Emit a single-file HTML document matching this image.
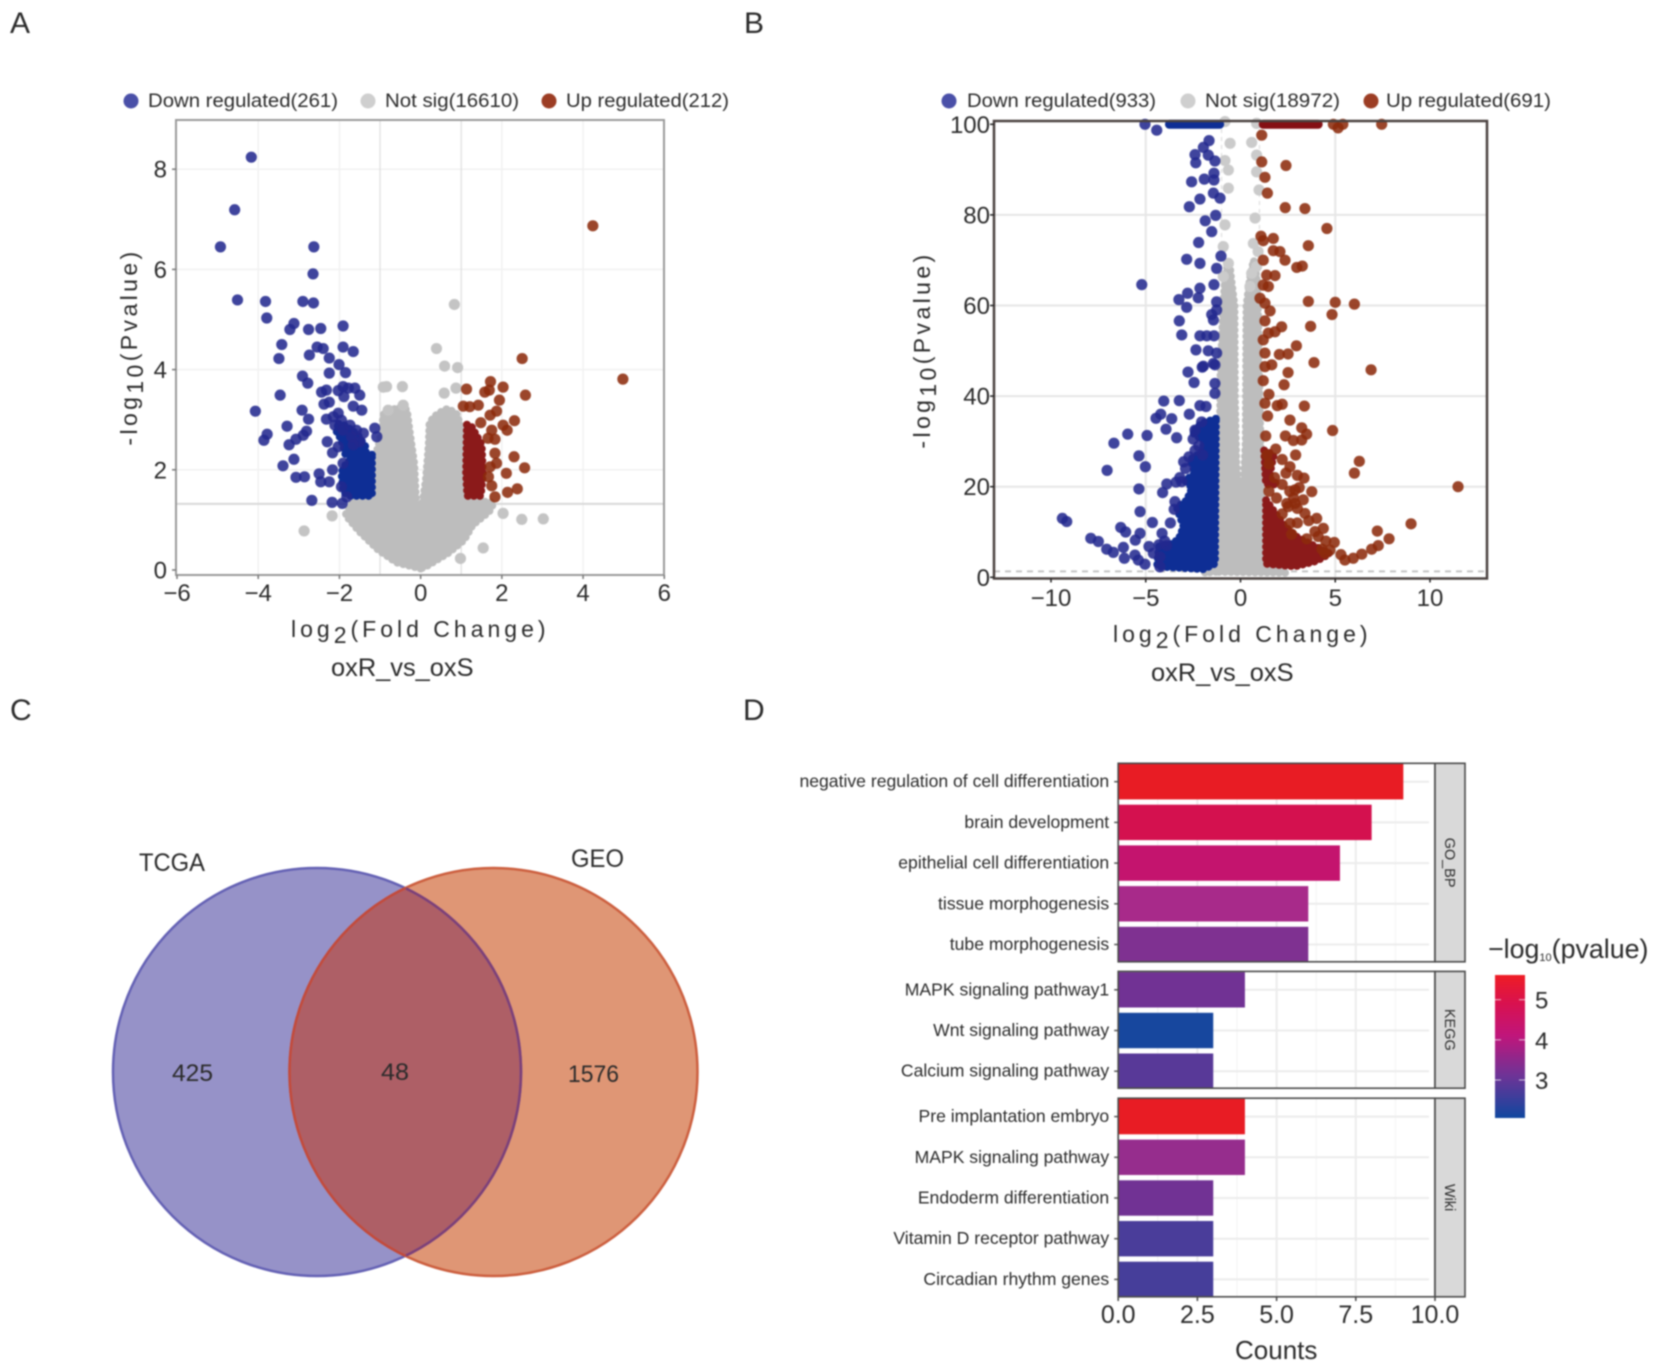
<!DOCTYPE html>
<html lang="en">
<head>
<meta charset="utf-8">
<title>Differential expression figure</title>
<style>
html,body{margin:0;padding:0;background:#fff;width:1660px;height:1369px;overflow:hidden}
svg{display:block;filter:blur(.7px)}
text{font-family:"Liberation Sans",sans-serif;fill:#2b2b2b}
</style>
</head>
<body>
<svg id="figure" xmlns="http://www.w3.org/2000/svg" width="1660" height="1369" viewBox="0 0 1660 1369">
  <rect x="0" y="0" width="1660" height="1369" fill="#fff"/>

  <text x="10" y="33" font-size="30" fill="#111">A</text>
  <text x="744" y="33" font-size="30">B</text>
  <text x="10" y="720" font-size="30">C</text>
  <text x="743" y="720" font-size="30">D</text>

  <g id="panel-a"></g>
  <g id="panel-b"></g>

  <!-- Panel A text -->
  <g>
    <circle cx="131" cy="101" r="7.5" fill="#4a50a8"/>
    <text x="148" y="107" font-size="19.5" textLength="190" lengthAdjust="spacingAndGlyphs" fill="#444">Down regulated(261)</text>
    <circle cx="368" cy="101" r="7.5" fill="#cfcfcf"/>
    <text x="385" y="107" font-size="19.5" textLength="134" lengthAdjust="spacingAndGlyphs" fill="#444">Not sig(16610)</text>
    <circle cx="549" cy="101" r="7.5" fill="#9c3d24"/>
    <text x="566" y="107" font-size="19.5" textLength="163" lengthAdjust="spacingAndGlyphs" fill="#444">Up regulated(212)</text>
  </g>
  <text x="291" y="637" font-size="23" letter-spacing="4" fill="#333">log<tspan dy="6">2</tspan><tspan dy="-6">(Fold Change)</tspan></text>
  <text x="331" y="676" font-size="25.4" fill="#333">oxR_vs_oxS</text>
  <text transform="translate(137,347) rotate(-90)" text-anchor="middle" font-size="23" letter-spacing="3.4" fill="#333">-log<tspan dy="6">10</tspan><tspan dy="-6">(Pvalue)</tspan></text>

  <!-- Panel B text -->
  <g>
    <circle cx="949" cy="101" r="7.5" fill="#4a50a8"/>
    <text x="967" y="107" font-size="19.5" textLength="189" lengthAdjust="spacingAndGlyphs" fill="#444">Down regulated(933)</text>
    <circle cx="1188" cy="101" r="7.5" fill="#cfcfcf"/>
    <text x="1205" y="107" font-size="19.5" textLength="135" lengthAdjust="spacingAndGlyphs" fill="#444">Not sig(18972)</text>
    <circle cx="1371" cy="101" r="7.5" fill="#9c3d24"/>
    <text x="1386" y="107" font-size="19.5" textLength="165" lengthAdjust="spacingAndGlyphs" fill="#444">Up regulated(691)</text>
  </g>
  <text x="1113" y="642" font-size="23" letter-spacing="4" fill="#333">log<tspan dy="6">2</tspan><tspan dy="-6">(Fold Change)</tspan></text>
  <text x="1151" y="681" font-size="25.4" fill="#333">oxR_vs_oxS</text>
  <text transform="translate(930,350) rotate(-90)" text-anchor="middle" font-size="23" letter-spacing="3.4" fill="#333">-log<tspan dy="6">10</tspan><tspan dy="-6">(Pvalue)</tspan></text>

  <!-- Panel C Venn -->
  <g>
    <defs>
      <clipPath id="clip-left"><circle cx="317" cy="1072" r="204"/></clipPath>
      <clipPath id="clip-right"><circle cx="493.5" cy="1072" r="204"/></clipPath>
    </defs>
    <circle cx="317" cy="1072" r="204" fill="#9692c8"/>
    <circle cx="493.5" cy="1072" r="204" fill="#df9675"/>
    <circle cx="493.5" cy="1072" r="204" fill="#ae5f66" clip-path="url(#clip-left)"/>
    <circle cx="317" cy="1072" r="204" fill="none" stroke="#6461b4" stroke-width="2.5"/>
    <circle cx="493.5" cy="1072" r="204" fill="none" stroke="#cc5f3f" stroke-width="2.5"/>
    <circle cx="317" cy="1072" r="204" fill="none" stroke="#7c3f78" stroke-width="2.5" clip-path="url(#clip-right)"/>
    <circle cx="493.5" cy="1072" r="204" fill="none" stroke="#c24a3c" stroke-width="2.5" clip-path="url(#clip-left)"/>
    <text x="139" y="871" font-size="25" textLength="66" lengthAdjust="spacingAndGlyphs" fill="#222">TCGA</text>
    <text x="571" y="867" font-size="25" textLength="53" lengthAdjust="spacingAndGlyphs" fill="#222">GEO</text>
    <text x="172" y="1081" font-size="24" textLength="41" lengthAdjust="spacingAndGlyphs" fill="#1c1c1c">425</text>
    <text x="381" y="1080" font-size="24" textLength="28" lengthAdjust="spacingAndGlyphs" fill="#1c1c1c">48</text>
    <text x="568" y="1082" font-size="24" textLength="51" lengthAdjust="spacingAndGlyphs" fill="#1c1c1c">1576</text>
  </g>

  <g id="panel-d"></g>
  <text x="1235" y="1359" font-size="26" fill="#333">Counts</text>
  <g>
    <defs>
      <linearGradient id="cbar-gradient" x1="0" y1="0" x2="0" y2="1">
        <stop offset="0" stop-color="#ee1c24"/>
        <stop offset="0.2" stop-color="#d8114f"/>
        <stop offset="0.42" stop-color="#c0157a"/>
        <stop offset="0.7" stop-color="#6f3396"/>
        <stop offset="1" stop-color="#0f479f"/>
      </linearGradient>
    </defs>
    <text x="1488" y="958" font-size="26.8" fill="#2b2b2b">−log<tspan font-size="11" dy="3">10</tspan><tspan dy="-3">(pvalue)</tspan></text>
    <rect x="1495" y="975" width="30" height="143" fill="url(#cbar-gradient)"/>
    <g id="cbar-ticks"></g>
  </g>
</svg>

<script>
/* ---------- Volcano A data: [log2 fold change, -log10 p] ---------- */
const aXTicks = [-6, -4, -2, 0, 2, 4, 6];
const aYTicks = [0, 2, 4, 6, 8];
const aThreshold = 1.32;
const aFoldLines = [-1, 1];
const aDown = [[-4.17,8.24],[-4.58,7.19],[-4.93,6.45],[-2.63,6.45],[-2.65,5.91],[-4.51,5.39],[-3.82,5.36],[-2.90,5.36],[-2.64,5.33],[-3.79,5.03],[-3.12,4.92],[-3.22,4.80],[-2.76,4.80],[-2.46,4.82],[-1.91,4.87],[-3.42,4.50],[-2.55,4.45],[-2.40,4.42],[-1.91,4.45],[-1.66,4.36],[-3.49,4.22],[-2.74,4.29],[-2.25,4.23],[-2.01,4.10],
[-2.91,3.87],[-2.78,3.73],[-2.25,3.93],[-1.85,3.94],[-3.46,3.49],[-2.44,3.55],[-2.32,3.59],[-1.91,3.66],[-2.03,3.58],[-1.78,3.63],[-1.62,3.63],[-1.50,3.49],[-1.89,3.46],[-2.38,3.31],[-2.25,3.35],[-1.66,3.27],[-1.45,3.19],[-4.07,3.17],[-2.92,3.19],[-2.76,3.01],[-3.29,2.87],[-3.78,2.71],[-3.86,2.59],[-2.81,2.77],[-2.89,2.69],[-3.07,2.61],[-3.24,2.50],[-2.32,3.01],[-2.03,3.13],[-2.15,3.06],[-2.11,2.89],[-1.95,2.99],[-1.91,2.79],[-1.74,2.89],[-1.58,2.79],[-1.41,2.73],[-1.13,2.83],[-1.08,2.66],[-1.70,2.66],[-1.50,2.56],[-1.66,2.50],[-2.30,2.56],[-2.03,2.46],[-2.17,2.34],[-3.12,2.21],[-3.39,2.08],[-3.07,1.85],[-2.86,1.86],[-2.50,1.92],[-2.46,1.76],[-2.25,1.76],[-2.17,2.00],[-2.68,1.39],[-2.18,1.35],[-1.93,1.33],[-1.82,1.46],[-1.95,1.66],[-1.91,2.13]];
const aDownDense = [[[-1.2,2.3],[-1.6,2.25],[-1.82,2.15],[-1.95,1.95],[-1.9,1.55],[-1.72,1.48],[-1.2,1.48]],
[[-2.02,2.92],[-1.85,2.88],[-1.55,2.7],[-1.35,2.45],[-1.35,2.3],[-1.85,2.3],[-1.95,2.6],[-2.08,2.78]]];
const aUp = [[2.50,4.22],[4.98,3.81],[4.24,6.87],[1.72,3.76],[2.03,3.65],[1.13,3.61],[1.58,3.55],[1.69,3.59],[2.58,3.49],[1.94,3.39],[1.05,3.27],[1.21,3.26],[1.42,3.29],[1.87,3.17],[1.71,3.09],[2.31,2.98],[2.03,2.89],[2.13,2.79],[1.48,2.94],[1.75,2.79],[1.83,2.61],[1.66,2.63],[2.30,2.26],[1.83,2.33],[1.87,2.13],[2.56,2.04],[2.11,1.93],[1.71,2.06],[1.67,1.86],[1.75,1.68],[2.38,1.62],[2.14,1.55],[1.83,1.46]];
const aUpDense = [[[1.14,2.9],[1.24,2.88],[1.5,2.5],[1.53,1.93],[1.48,1.48],[1.15,1.48],[1.12,1.93]]];
const aNotSig = [[0.83,5.30],[0.39,4.42],[0.59,4.07],[0.91,4.04],[0.58,3.53],[0.87,3.63],[2.03,1.13],[2.49,1.01],[3.02,1.02],[1.54,0.44],[0.98,0.23],[-0.92,3.65],[-0.84,3.66],[-0.45,3.66],[-0.43,3.29],[-0.80,3.19],[-2.18,1.08],[-2.87,0.78]];
const aNotSigMass = [[[0,0.03],[-0.59,0.15],[-1.04,0.4],[-1.52,0.78],[-1.85,1.1],[-1.55,1.5],[-1.1,2.3],[-0.95,2.75],[-0.92,3.1],[-0.55,3.25],[-0.34,3.2],[-0.27,2.75],[-0.16,2.13],[-0.1,1.15],[0,1.05],[0.13,1.8],[0.2,2.5],[0.22,2.95],[0.42,3.12],[0.67,3.22],[0.88,3.12],[0.98,2.88],[1.03,1.42],[1.8,1.34],[1.68,1.16],[1.28,0.9],[1.07,0.6],[0.68,0.34],[0.15,0.08]]];

/* ---------- Volcano B data ---------- */
const bXTicks = [-10, -5, 0, 5, 10];
const bYTicks = [0, 20, 40, 60, 80, 100];
const bThreshold = 1.3;
const bFoldLines = [-1, 1];
const bCapValue = 100;
const bDownCapBand = [-3.75, -1.1];
const bUpCapBand = [1.2, 4.1];
const bDown = [[-5.04,100],[-4.42,98.7],[-1.66,96.4],[-1.96,94.9],[-2.40,93.3],[-2.36,91.5],[-1.70,93.2],[-1.35,91.9],[-2.58,87.3],[-1.91,87.9],[-1.40,89.2],[-1.40,87.7],[-1.43,84.8],[-1.08,83.7],[-2.14,83.5],[-2.70,81.8],[-1.31,79.9],[-1.86,78.7],[-1.52,76.3],[-2.21,73.9],[-2.84,70.2],[-2.14,69.3],[-1.03,70.9],[-1.26,68.2],[-5.21,64.6],[-1.40,64.6],[-2.14,63.8],[-2.79,62.7],[-2.23,61.7],[-3.25,61.3],[-2.84,59.6],[-1.26,60.8],[-1.52,58.0],[-1.26,59.0],[-1.43,56.8],[-3.23,56.6],[-3.10,53.5],[-2.14,53.3],[-1.78,53.3],[-1.40,53.3],[-2.35,50.2],[-1.70,50.0],[-1.26,49.5],[-1.96,46.6],[-1.43,47.2],
[-2.77,45.3],[-2.02,46.4],[-2.45,43.0],[-1.35,46.9],[-1.35,42.8],[-1.35,40.6],[-4.05,38.9],[-3.23,39.0],[-2.14,37.9],[-1.82,37.7],[-2.70,36.0],[-4.21,36.0],[-4.46,35.1],[-3.63,35.0],[-3.93,32.7],[-5.95,31.6],[-4.93,31.3],[-3.37,30.8],[-6.68,29.6],[-5.36,26.8],[-5.02,24.4],[-7.04,23.6],[-5.36,19.5],[-3.89,20.6],[-4.11,18.7],[-5.30,14.5],[-9.40,13.0],[-9.17,12.3],[-4.65,12.1],[-6.32,11.0],[-6.06,10.0],[-4.14,9.7],[-5.30,9.7],[-5.55,8.2],[-7.90,8.6],[-7.50,7.9],[-7.06,6.2],[-6.71,5.5],[-6.18,6.6],[-6.13,4.2],[-5.57,4.9],[-5.39,3.8],[-5.04,2.9],[-4.83,6.8],[-4.60,5.3],[-4.25,4.5],[-4.25,2.3],[-3.10,21.1],[-2.72,26.6],[-3.46,16.7],[-2.40,32.5],[-2.05,34.3],
[-2.9,24],[-3.0,25.5],[-3.4,21],[-3.2,22],[-3.5,15],[-3.7,12],[-4.0,8],[-4.3,7.2],[-3.9,7],[-2.2,29],[-2.5,30.5],[-2.0,27],[-2.4,28]];
const bDownDense = [[[-1.3,35],[-2.05,34],[-2.55,32],[-1.9,30],[-2.05,27.6],[-2.65,26],[-2.4,23],[-2.92,21.3],[-2.55,19.8],[-2.83,17],[-3.36,15.4],[-3.0,11.2],[-3.25,8.5],[-3.6,7.4],[-4.3,6.8],[-4.4,2.4],[-1.96,1.8],[-1.35,3]]];
const bUp = [[4.9,100],[5.15,99.2],[5.4,100],[7.45,100],[1.12,97.6],[1.12,91.7],[2.40,90.9],[1.29,88.3],[1.42,84.8],[2.36,81.6],[3.40,81.4],[4.56,77],[1.08,75.3],[1.20,74.3],[1.73,74.8],[3.58,73.2],[1.73,72.1],[2.08,71.9],[2.35,70],[1.20,70],[2.97,68.4],[3.26,68.7],[1.38,66.7],[1.82,66.6],[1.20,64.5],[1.47,64.2],[1.03,61.6],[1.29,60.5],[1.56,58.8],[3.58,60.9],[5.0,60.7],[6.01,60.3],[4.83,58],[1.29,56.6],[3.70,55.4],[2.17,55.3],[1.82,54.2],[1.47,53.9],[1.20,52.4],[2.95,51.1],[1.29,49.5],[2.05,49.2],[2.51,49.3],[3.88,47.4],[6.89,45.8],
[1.65,46.9],[1.29,46.5],[2.51,45.2],[1.20,43.4],[2.30,42.5],[1.50,40.4],[1.29,38.4],[1.94,37.9],[2.20,38.2],[3.37,37.8],[1.43,35.6],[2.61,34.7],[4.86,32.4],[3.23,33],[3.49,31.6],[2.37,31.2],[1.33,31.2],[2.79,30.2],[3.23,30.3],[1.86,28.3],[2.91,27],[6.27,25.6],[6.01,23],[2.61,24.4],[3.35,21.9],[11.48,20],[3.76,18.9],[3.31,17.1],[2.44,16.3],[3.40,14.1],[4.02,13],[9.0,11.8],[2.61,11.9],[4.37,10.8],[3.93,10.1],[7.22,10.2],[7.84,8.5],[7.27,7],[6.92,6.2],[6.40,5.1],[5.95,4.2],[5.51,3.8],[4.95,7.7],[4.72,6],[4.46,5.3],[2.88,19.3],[2.52,15.6],[2.88,16.3],
[1.5,25],[1.8,22],[2.2,20.5],[2.6,19],[1.5,19],[1.9,17.5],[2.8,17.5],[3.0,15.2],[2.2,14],[3.6,12.5],[3.0,12],[2.7,9.5],[3.5,8.5],[4.1,9],[4.5,8],[4.3,6.2],[5.3,5],[1.4,27],[2.2,26],[2.4,23],[3.0,22.5],[3.1,19.8]];
const bUpDense = [[[1.25,28],[1.75,27],[1.5,22],[1.95,20.5],[1.35,20.5]],
[[1.35,17],[2.3,11.4],[3.0,8.8],[3.95,6.8],[4.7,5.2],[4.0,3.6],[2.88,2.4],[1.35,3]]];
const bNotSig = [[-0.82,100.6],[-0.55,95.8],[-0.82,92],[-0.64,89.9],[-0.64,85.9],[-0.82,77.8],[-0.91,73],[-0.64,69.3],[-0.91,66.4],[0.85,100.2],[0.59,96],[0.85,93.2],[0.85,89.5],[0.98,85.5],[0.77,79.3],[0.68,73.7],[0.93,71.9],[0.59,67.1],[0.85,68.6],[0.5,64.2]];
const bNotSigMass = [[[-1.3,1.2],[-1.9,1],[-1.4,2],[-1.15,4],[-1.1,25],[-1.05,45],[-0.9,60],[-0.8,67],[-0.6,70],[-0.5,66],[-0.32,60],[-0.3,40],[-0.22,25],[-0.1,20],[0.16,20],[0.28,30],[0.3,45],[0.32,60],[0.5,66],[0.7,70],[0.85,66],[0.93,58],[1.0,40],[1.08,25],[1.12,4],[1.3,2],[2.4,1]]];

/* ---------- Enrichment bars ---------- */
const termNames = ["negative regulation of cell differentiation","brain development","epithelial cell differentiation","tissue morphogenesis","tube morphogenesis","MAPK signaling pathway1","Wnt signaling pathway","Calcium signaling pathway","Pre implantation embryo","MAPK signaling pathway","Endoderm differentiation","Vitamin D receptor pathway","Circadian rhythm genes"];
const termCounts = [9, 8, 7, 6, 6, 4, 3, 3, 4, 4, 3, 3, 3];
const termPvalues = [5.5, 4.8, 4.2, 3.8, 3.3, 3.1, 2.0, 2.8, 5.6, 3.6, 3.1, 2.65, 2.6];
const termFacets = [0, 0, 0, 0, 0, 1, 1, 1, 2, 2, 2, 2, 2];
const facetNames = ["GO_BP", "KEGG", "Wiki"];
const countTicks = [0, 2.5, 5, 7.5, 10];
const countTickLabels = ["0.0", "2.5", "5.0", "7.5", "10.0"];
const colorBarTicks = [3, 4, 5];
const colorScaleValues = [2.0, 2.6, 3.0, 3.5, 3.8, 4.2, 4.8, 5.5];

/* ---------- helpers ---------- */
const NS = "http://www.w3.org/2000/svg";
const colorScaleColors = ["#17479e","#463e9a","#6a3396","#8d2f8e","#a82a8a","#c4146e","#d4114f","#e81c24"];

function linear(d0, d1, r0, r1) {
  return function (v) { return r0 + (v - d0) * (r1 - r0) / (d1 - d0); };
}
function make(parent, tag, attrs, label) {
  const el = document.createElementNS(NS, tag);
  for (const k in attrs) el.setAttribute(k, attrs[k]);
  if (label !== undefined) el.textContent = label;
  parent.appendChild(el);
  return el;
}
function hexMix(a, b, t) {
  const pa = [1, 3, 5].map(function (i) { return parseInt(a.substr(i, 2), 16); });
  const pb = [1, 3, 5].map(function (i) { return parseInt(b.substr(i, 2), 16); });
  return "rgb(" + pa.map(function (c, i) { return Math.round(c + (pb[i] - c) * t); }).join(",") + ")";
}
function pvalueColor(v) {
  const s = colorScaleValues, c = colorScaleColors;
  if (v <= s[0]) return c[0];
  for (let i = 1; i < s.length; i++) {
    if (v <= s[i]) return hexMix(c[i - 1], c[i], (v - s[i - 1]) / (s[i] - s[i - 1]));
  }
  return c[c.length - 1];
}

function drawVolcano(root, o) {
  const x = o.x, y = o.y;
  o.yTicks.forEach(function (t) {
    if (t === 0 || t === o.yMaxTick) return;
    const el = make(root, "line", {x1: o.left, x2: o.right, y1: y(t), y2: y(t), stroke: o.gridColor, "stroke-width": o.gridWidth});
    
    
  });
  o.xTicks.forEach(function (t) {
    if (t === 0 || t === o.xTicks[0] || t === o.xTicks[o.xTicks.length - 1]) return;
    const el = make(root, "line", {x1: x(t), x2: x(t), y1: o.top, y2: o.bottom, stroke: o.gridColor, "stroke-width": o.gridWidth});
    
    
  });
  o.foldLines.forEach(function (t) {
    const el = make(root, "line", {x1: x(t), x2: x(t), y1: o.top, y2: o.bottom, stroke: "#dedede", "stroke-width": 1.2, "stroke-dasharray": o.dash});
    
    
  });
  const thr = make(root, "line", {x1: o.left, x2: o.right, y1: y(o.threshold), y2: y(o.threshold), stroke: o.thrColor, "stroke-width": 2, "stroke-dasharray": o.thrDash});
  
  

  function polygons(list, fill, name) {
    list.forEach(function (poly) {
      const pts = poly.map(function (p) { return x(p[0]) + "," + y(p[1]); }).join(" ");
      const el = make(root, "polygon", {points: pts, fill: fill, stroke: fill, "stroke-width": 8, "stroke-linecap": "round", "stroke-dasharray": "0 6"});
      
      
    });
  }
  function dots(list, fill, opacity, name) {
    list.forEach(function (p) {
      const el = make(root, "circle", {cx: x(p[0]), cy: y(p[1]), r: 5.6, fill: fill, "fill-opacity": opacity});
      
      
    });
  }
  polygons(o.massGrey, "#bdbdbd", "not-significant-density");
  dots(o.grey, o.greyDot, 1, "not-significant-point");
  polygons(o.denseDown, "#0e2e95", "down-regulated-density");
  polygons(o.denseUp, "#8b1a1a", "up-regulated-density");
  dots(o.down, "#22288f", 0.87, "down-regulated-point");
  dots(o.up, "#8c2a0c", 0.87, "up-regulated-point");

  if (o.downBand) {
    const bandA = make(root, "line", {x1: x(o.downBand[0]), x2: x(o.downBand[1]), y1: y(o.cap), y2: y(o.cap), stroke: "#0e2e95", "stroke-width": 9, "stroke-linecap": "round"});
    
    
    const bandB = make(root, "line", {x1: x(o.upBand[0]), x2: x(o.upBand[1]), y1: y(o.cap), y2: y(o.cap), stroke: "#851014", "stroke-width": 9, "stroke-linecap": "round"});
    
    
  }

  const frame = make(root, "rect", {x: o.left, y: o.top, width: o.right - o.left, height: o.bottom - o.top, fill: "none", stroke: o.frameColor, "stroke-width": o.frameWidth});
  
  

  o.xTicks.forEach(function (t) {
    const tick = make(root, "line", {x1: x(t), x2: x(t), y1: o.bottom, y2: o.bottom + 4, stroke: o.tickColor, "stroke-width": 1.5});
    
    
    const label = make(root, "text", {x: x(t), y: o.xLabelY, "text-anchor": "middle", "font-size": 24, fill: "#333"}, (t < 0 ? "−" + (-t) : String(t)));
    
    
  });
  o.yTicks.forEach(function (t) {
    const tick = make(root, "line", {x1: o.left - 4, x2: o.left, y1: y(t), y2: y(t), stroke: o.tickColor, "stroke-width": 1.5});
    
    
    const label = make(root, "text", {x: o.yLabelX, y: y(t) + 8.5, "text-anchor": "end", "font-size": 24, fill: "#333"}, String(t));
    
    
  });
}

drawVolcano(document.getElementById("panel-a"), {
  x: linear(-6, 6, 177, 664.3), y: linear(0, 8, 570, 169.2),
  left: 176, right: 664, top: 120, bottom: 575,
  xTicks: aXTicks, yTicks: aYTicks, yMaxTick: -1, foldLines: aFoldLines, threshold: aThreshold,
  gridColor: "#f1f1f1", gridWidth: 1.5, dash: "none", thrColor: "#d8d8d8", thrDash: "none",
  massGrey: aNotSigMass, grey: aNotSig, greyDot: "#c4c4c4",
  denseDown: aDownDense, denseUp: aUpDense, down: aDown, up: aUp,
  frameColor: "#9a9a9a", frameWidth: 2, tickColor: "#777", xLabelY: 601, yLabelX: 167
});
drawVolcano(document.getElementById("panel-b"), {
  x: linear(-10, 10, 1051, 1430), y: linear(0, 100, 577.3, 124.3),
  left: 994, right: 1487, top: 121, bottom: 578.5,
  xTicks: bXTicks, yTicks: bYTicks, yMaxTick: 100, foldLines: bFoldLines, threshold: bThreshold,
  gridColor: "#e6e6e6", gridWidth: 2, dash: "4 4", thrColor: "#c4c4c4", thrDash: "6 5",
  massGrey: bNotSigMass, grey: bNotSig, greyDot: "#cbcbcb",
  denseDown: bDownDense, denseUp: bUpDense, down: bDown, up: bUp,
  downBand: bDownCapBand, upBand: bUpCapBand, cap: bCapValue,
  frameColor: "#4b4240", frameWidth: 2.5, tickColor: "#222", xLabelY: 606, yLabelX: 990
});

/* ---------- Enrichment chart ---------- */
(function () {
  const root = document.getElementById("panel-d");
  const cx = linear(0, 10, 1118.2, 1435);
  const panelTops = [763.3, 971.4, 1098.2];
  const panelBottoms = [961.8, 1088.2, 1296.8];
  const step = 40.7, barH = 35.4;
  const panelLeft = 1118.2, panelRight = 1435, stripRight = 1465;

  facetNames.forEach(function (name, f) {
    const top = panelTops[f], bottom = panelBottoms[f];
    [1.25, 3.75, 6.25, 8.75].forEach(function (t) {
      const g = make(root, "line", {x1: cx(t), x2: cx(t), y1: top, y2: bottom, stroke: "#f3f3f3", "stroke-width": 1});
      
      
    });
    countTicks.forEach(function (t) {
      const g = make(root, "line", {x1: cx(t), x2: cx(t), y1: top, y2: bottom, stroke: "#ececec", "stroke-width": 2});
      
      
    });
  });

  const rowInFacet = [0, 0, 0];
  termNames.forEach(function (name, i) {
    const f = termFacets[i];
    const r = rowInFacet[f]++;
    const cy = panelTops[f] + 18.4 + r * step;
    const grid = make(root, "line", {x1: panelLeft, x2: 1429, y1: cy, y2: cy, stroke: "#ececec", "stroke-width": 2});
    
    
    const bar = make(root, "rect", {x: cx(0), y: cy - barH / 2, width: cx(termCounts[i]) - cx(0), height: barH, fill: pvalueColor(termPvalues[i])});
    
    
    const tick = make(root, "line", {x1: panelLeft - 4, x2: panelLeft, y1: cy, y2: cy, stroke: "#555", "stroke-width": 1.5});
    
    
    const label = make(root, "text", {x: panelLeft - 9, y: cy + 5.5, "text-anchor": "end", "font-size": 17.6, fill: "#3a3a3a"}, name);
    
    
  });

  facetNames.forEach(function (name, f) {
    const top = panelTops[f], bottom = panelBottoms[f];
    const frame = make(root, "rect", {x: panelLeft, y: top, width: panelRight - panelLeft, height: bottom - top, fill: "none", stroke: "#4a4a4a", "stroke-width": 1.6});
    
    
    const strip = make(root, "rect", {x: panelRight, y: top, width: stripRight - panelRight, height: bottom - top, fill: "#d9d9d9", stroke: "#4a4a4a", "stroke-width": 1.6});
    
    
    const mid = (top + bottom) / 2, sx = (panelRight + stripRight) / 2 - 5;
    const label = make(root, "text", {transform: "translate(" + sx + "," + mid + ") rotate(90)", "text-anchor": "middle", "font-size": 14.5, fill: "#333"}, name);
    
    
  });

  countTicks.forEach(function (t, i) {
    const tick = make(root, "line", {x1: cx(t), x2: cx(t), y1: 1296.8, y2: 1301, stroke: "#444", "stroke-width": 1.5});
    
    
    const label = make(root, "text", {x: cx(t), y: 1323, "text-anchor": "middle", "font-size": 25, fill: "#333"}, countTickLabels[i]);
    
    
  });

  const bar = document.getElementById("cbar-ticks");
  const cb = linear(3, 5, 1080, 999.7);
  colorBarTicks.forEach(function (t) {
    const l1 = make(bar, "line", {x1: 1495, x2: 1501, y1: cb(t), y2: cb(t), stroke: "#fff", "stroke-width": 1, "stroke-opacity": 0.7});
    
    
    const l2 = make(bar, "line", {x1: 1519, x2: 1525, y1: cb(t), y2: cb(t), stroke: "#fff", "stroke-width": 1, "stroke-opacity": 0.7});
    
    
    const label = make(bar, "text", {x: 1535, y: cb(t) + 9, "font-size": 24, fill: "#2b2b2b"}, String(t));
    
    
  });
})();
</script>
</body>
</html>
